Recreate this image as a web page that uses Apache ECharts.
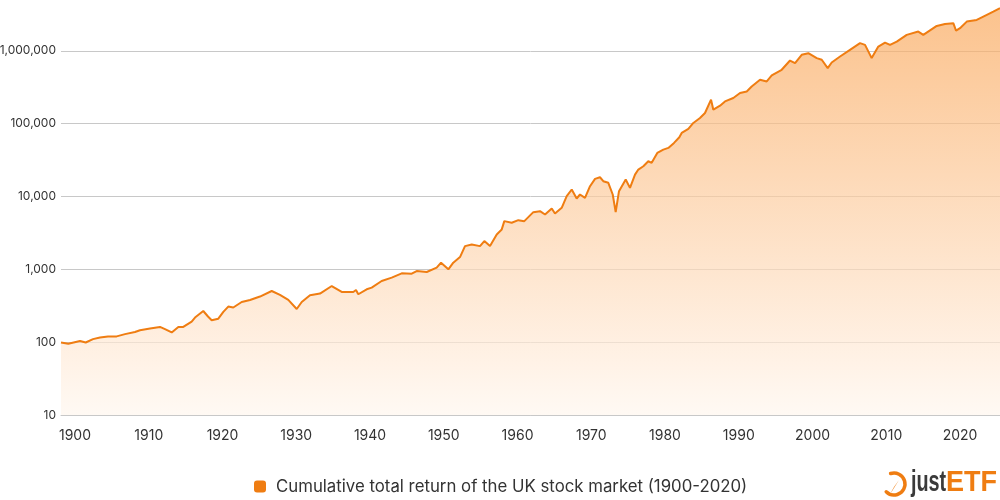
<!DOCTYPE html>
<html>
<head>
<meta charset="utf-8">
<script src="https://cdn.jsdelivr.net/npm/echarts@6/dist/echarts.min.js"></script>
<style>
  html, body { margin: 0; padding: 0; background: #fff; }
  #chart { width: 1000px; height: 500px; }
</style>
</head>
<body>
<div id="chart"></div>
<script>
// values (year, cumulative index)
const years = [
  1898.10, 1899.09, 1900.68, 1901.45, 1902.44, 1903.39, 1904.47, 1905.65, 1906.78, 1908.13,
  1908.81, 1910.17, 1911.52, 1912.20, 1913.11, 1914.01, 1914.68, 1915.82, 1916.27, 1917.39,
  1918.03, 1918.53, 1919.43, 1920.11, 1920.78, 1921.46, 1922.60, 1923.73, 1925.08, 1926.67,
  1927.79, 1928.92, 1930.06, 1930.74, 1931.86, 1933.22, 1934.81, 1936.16, 1937.73, 1938.10,
  1938.41, 1939.55, 1940.23, 1941.58, 1942.94, 1944.30, 1945.65, 1946.33, 1947.69, 1949.04,
  1949.63, 1950.62, 1951.29, 1952.20, 1952.88, 1953.79, 1954.91, 1955.50, 1956.27, 1957.18,
  1957.86, 1958.21, 1959.21, 1960.11, 1960.92, 1962.14, 1963.05, 1963.73, 1964.64, 1965.08,
  1965.99, 1966.67, 1967.35, 1968.02, 1968.47, 1969.15, 1969.83, 1970.51, 1971.18, 1971.63,
  1972.31, 1972.91, 1973.31, 1973.76, 1974.67, 1975.25, 1975.93, 1976.38, 1977.06, 1977.73,
  1978.19, 1978.95, 1979.77, 1980.45, 1981.22, 1981.94, 1982.26, 1983.16, 1983.84, 1984.74,
  1985.42, 1986.24, 1986.55, 1987.46, 1988.13, 1989.26, 1990.17, 1991.08, 1991.75, 1992.88,
  1993.79, 1994.47, 1995.82, 1996.95, 1997.63, 1998.53, 1999.43, 2000.57, 2001.25, 2002.06,
  2002.60, 2003.73, 2005.08, 2006.44, 2007.12, 2008.02, 2008.92, 2009.83, 2010.51, 2011.42,
  2012.77, 2014.34, 2015.02, 2016.84, 2017.96, 2019.09, 2019.46, 2020.00, 2020.91, 2022.26,
  2023.16, 2024.51, 2025.42
];
const values = [
  99, 95, 104, 99, 110, 116, 120, 120, 129, 138,
  146, 154, 162, 151, 136, 162, 162, 192, 218, 268,
  225, 200, 210, 260, 308, 299, 356, 380, 423, 504,
  445, 380, 285, 356, 440, 465, 590, 489, 489, 520,
  455, 532, 561, 692, 770, 881, 870, 948, 919, 1055,
  1235, 1000, 1235, 1473, 2083, 2198, 2083, 2441, 2083, 3015,
  3532, 4588, 4362, 4735, 4588, 6095, 6290, 5662, 6850, 5850,
  7000, 10090, 12470, 9390, 10650, 9600, 13840, 17460, 18370, 16210,
  15410, 10650, 6100, 11820, 17100, 13150, 20000, 23430, 26020, 30460,
  28970, 39690, 44060, 46470, 54440, 65000, 74600, 84600, 102300, 119700,
  140200, 213300, 155600, 176600, 202000, 224800, 263400, 276900, 324300, 400800,
  379600, 458800, 549500, 736200, 678600, 881000, 929000, 794300, 753400, 579400,
  691800, 835600, 1032000, 1274000, 1208000, 794300, 1146000, 1300000, 1208000, 1341000,
  1656000, 1838000, 1656000, 2198000, 2342000, 2395000, 1897000, 2046000, 2519000, 2658000,
  2951000, 3452000, 3845000
];
const xTickLabels = [1900, 1910, 1920, 1930, 1940, 1950, 1960, 1970, 1980, 1990, 2000, 2010, 2020];
const seriesName = 'Cumulative total return of the UK stock market (1900-2020)';

const chart = echarts.init(document.getElementById('chart'), null, { renderer: 'canvas' });
const orange = '#ef7d12';
const font = 'Inter, "Noto Sans", sans-serif';
const logoFont = '"Liberation Sans", Arial, sans-serif';

const option = {
  animation: false,
  textStyle: { fontFamily: font },
  grid: { left: 61, right: 0, top: -22, bottom: 85, outerBoundsMode: 'none', containLabel: false },
  legend: {
    data: [{ name: seriesName, icon: 'roundRect' }],
    left: 254,
    top: 478,
    padding: 0,
    itemWidth: 12,
    itemHeight: 12,
    textStyle: { fontSize: 16.8, color: '#333', fontFamily: font, padding: [0, 0, 0, 5] }
  },
  xAxis: {
    type: 'value',
    min: 1898.1,
    max: 2025.42,
    axisLine: { show: true, lineStyle: { color: '#c8c8c8', width: 1 } },
    axisTick: { show: false },
    splitLine: { show: false },
    axisLabel: {
      customValues: xTickLabels,
      fontSize: 14,
      color: '#333',
      margin: 14,
      formatter: v => String(v)
    }
  },
  yAxis: {
    type: 'log',
    logBase: 10,
    min: 10,
    max: 10000000,
    axisLine: { show: false },
    axisTick: { show: false },
    splitLine: { show: true, lineStyle: { color: '#c8c8c8', width: 1 } },
    axisLabel: {
      fontSize: 12,
      color: '#333',
      margin: 5,
      formatter: v => Math.round(v).toLocaleString('en-US')
    }
  },
  series: [{
    name: seriesName,
    type: 'line',
    data: years.map((y, i) => [y, values[i]]),
    showSymbol: false,
    symbol: 'none',
    color: orange,
    lineStyle: { color: orange, width: 2 },
    areaStyle: {
      origin: 'start',
      color: new echarts.graphic.LinearGradient(0, 0, 0, 1, [
        { offset: 0, color: '#f9a85c' },
        { offset: 1, color: '#fff6ee' }
      ])
    }
  }],
  graphic: [
    {
      type: 'arc',
      shape: { cx: 894, cy: 484, r: 11, startAngle: -Math.PI * 0.6, endAngle: Math.PI * 0.75 },
      style: { stroke: orange, lineWidth: 3.5, fill: null, lineCap: 'round' }
    },
    {
      type: 'polygon',
      shape: { points: [[889, 496], [899, 480], [894, 487]] },
      style: { fill: orange }
    },
    {
      type: 'text',
      x: 911,
      y: 498,
      scaleX: 0.66,
      style: { text: 'just', fontSize: 30, fontWeight: 'bold', fill: '#3a3a3a', fontFamily: logoFont, verticalAlign: 'bottom' }
    },
    {
      type: 'text',
      x: 946,
      y: 498,
      scaleX: 0.9,
      style: { text: 'ETF', fontSize: 30, fontWeight: 'bold', fill: orange, fontFamily: logoFont, verticalAlign: 'bottom' }
    }
  ]
};

chart.setOption(option);
</script>
</body>
</html>
